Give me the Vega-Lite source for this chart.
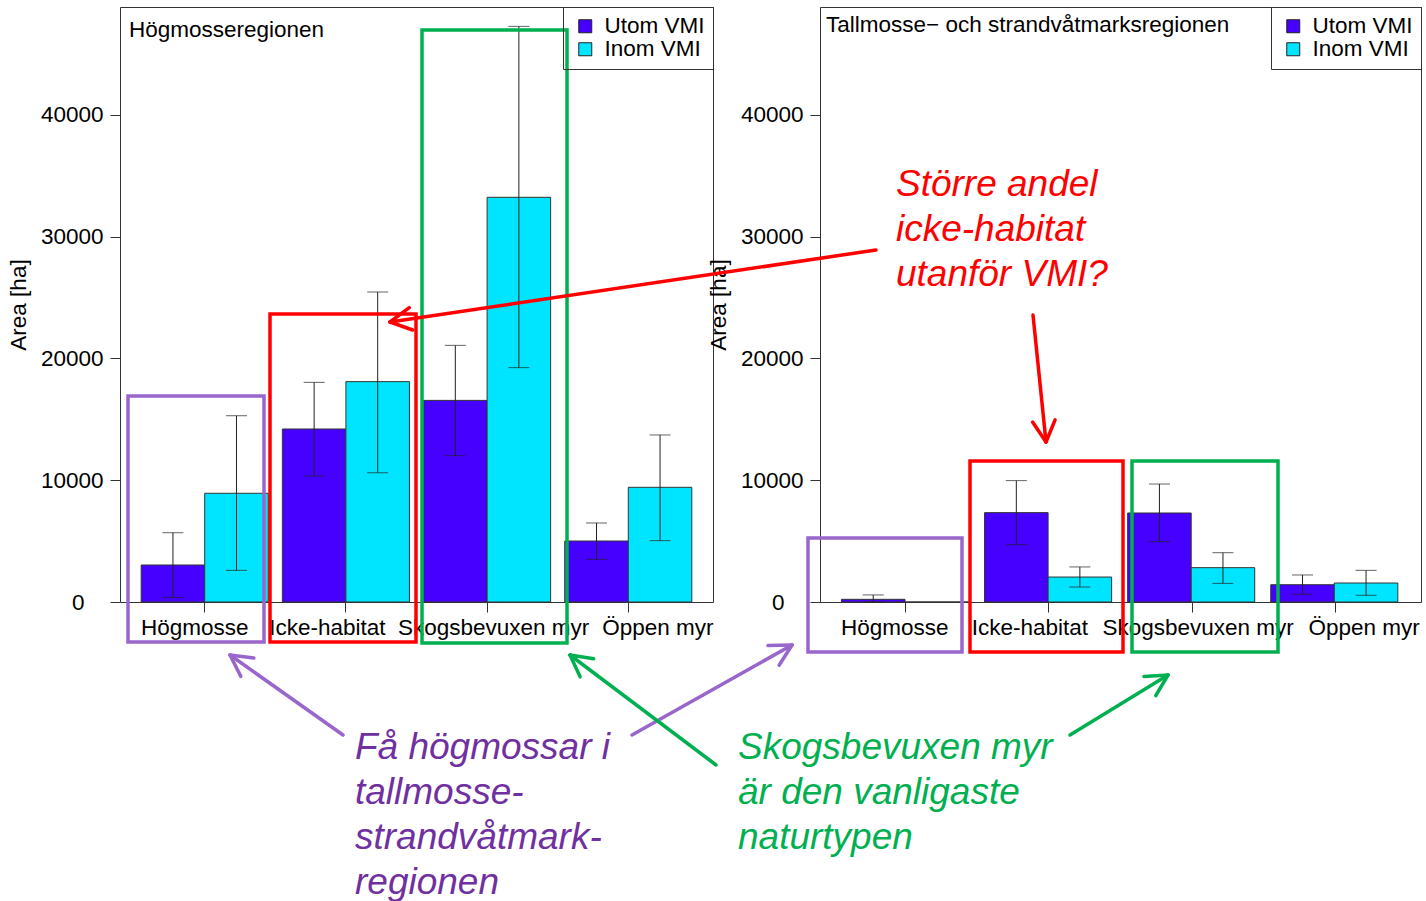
{
  "$schema": "https://vega.github.io/schema/vega-lite/v6.json",
  "background": "white",
  "padding": {"left": 6, "top": 6, "right": 0, "bottom": 0},
  "bounds": "flush",
  "spacing": 107,
  "config": {
    "font": "Liberation Sans",
    "view": {"stroke": "#333333", "strokeWidth": 1},
    "axis": {"labelFontSize": 22.5, "titleFontSize": 22.5, "titleFontWeight": "normal", "labelColor": "#000000", "titleColor": "#000000", "tickColor": "#333333", "tickSize": 10, "domain": false, "grid": false}
  },
  "datasets": {
    "staplar": [
      {"region": "Högmosseregionen", "naturtyp": "Högmosse", "grupp": "Utom VMI", "area": 3040, "lo": 380, "hi": 5690},
      {"region": "Högmosseregionen", "naturtyp": "Högmosse", "grupp": "Inom VMI", "area": 8930, "lo": 2600, "hi": 15300},
      {"region": "Högmosseregionen", "naturtyp": "Icke-habitat", "grupp": "Utom VMI", "area": 14210, "lo": 10350, "hi": 18040},
      {"region": "Högmosseregionen", "naturtyp": "Icke-habitat", "grupp": "Inom VMI", "area": 18100, "lo": 10620, "hi": 25460},
      {"region": "Högmosseregionen", "naturtyp": "Skogsbevuxen myr", "grupp": "Utom VMI", "area": 16560, "lo": 12020, "hi": 21080},
      {"region": "Högmosseregionen", "naturtyp": "Skogsbevuxen myr", "grupp": "Inom VMI", "area": 33240, "lo": 19250, "hi": 47280},
      {"region": "Högmosseregionen", "naturtyp": "Öppen myr", "grupp": "Utom VMI", "area": 5010, "lo": 3500, "hi": 6490},
      {"region": "Högmosseregionen", "naturtyp": "Öppen myr", "grupp": "Inom VMI", "area": 9420, "lo": 5040, "hi": 13720},
      {"region": "Tallmosse- och strandvåtmarksregionen", "naturtyp": "Högmosse", "grupp": "Utom VMI", "area": 220, "lo": 0, "hi": 580},
      {"region": "Tallmosse- och strandvåtmarksregionen", "naturtyp": "Högmosse", "grupp": "Inom VMI", "area": 0, "lo": null, "hi": null},
      {"region": "Tallmosse- och strandvåtmarksregionen", "naturtyp": "Icke-habitat", "grupp": "Utom VMI", "area": 7340, "lo": 4710, "hi": 9970},
      {"region": "Tallmosse- och strandvåtmarksregionen", "naturtyp": "Icke-habitat", "grupp": "Inom VMI", "area": 2050, "lo": 1230, "hi": 2880},
      {"region": "Tallmosse- och strandvåtmarksregionen", "naturtyp": "Skogsbevuxen myr", "grupp": "Utom VMI", "area": 7310, "lo": 4960, "hi": 9690},
      {"region": "Tallmosse- och strandvåtmarksregionen", "naturtyp": "Skogsbevuxen myr", "grupp": "Inom VMI", "area": 2820, "lo": 1530, "hi": 4050},
      {"region": "Tallmosse- och strandvåtmarksregionen", "naturtyp": "Öppen myr", "grupp": "Utom VMI", "area": 1420, "lo": 630, "hi": 2220},
      {"region": "Tallmosse- och strandvåtmarksregionen", "naturtyp": "Öppen myr", "grupp": "Inom VMI", "area": 1560, "lo": 550, "hi": 2600}
    ],
    "ramar": [
      {"panel": "L", "tema": "Högmosse", "x": 0.4567, "x2": 1.4199, "y": 16920, "y2": -3285},
      {"panel": "L", "tema": "Icke-habitat", "x": 1.4624, "x2": 2.4965, "y": 23655, "y2": -3285},
      {"panel": "L", "tema": "Skogsbevuxen myr", "x": 2.539, "x2": 3.566, "y": 46982, "y2": -3368},
      {"panel": "R", "tema": "Högmosse", "x": 0.3161, "x2": 1.3923, "y": 5257, "y2": -4107},
      {"panel": "R", "tema": "Icke-habitat", "x": 1.4483, "x2": 2.5175, "y": 11581, "y2": -4107},
      {"panel": "R", "tema": "Skogsbevuxen myr", "x": 2.5804, "x2": 3.6007, "y": 11581, "y2": -4107}
    ],
    "pilar": [
      {"panel": "L", "tema": "Högmosse", "x": 1.9794, "y": -10924, "x2": 1.1791, "y2": -4353},
      {"panel": "L", "tema": "Högmosse", "x": 1.1791, "y": -4353, "x2": 1.2556, "y2": -6111},
      {"panel": "L", "tema": "Högmosse", "x": 1.1791, "y": -4353, "x2": 1.3477, "y2": -4600},
      {"panel": "L", "tema": "Högmosse", "x": 4.0263, "y": -10924, "x2": 5.1596, "y2": -3532},
      {"panel": "L", "tema": "Högmosse", "x": 5.1596, "y": -3532, "x2": 4.9896, "y2": -3581},
      {"panel": "L", "tema": "Högmosse", "x": 5.1596, "y": -3532, "x2": 5.0682, "y2": -5191},
      {"panel": "L", "tema": "Skogsbevuxen myr", "x": 4.6213, "y": -13388, "x2": 3.5872, "y2": -4353},
      {"panel": "L", "tema": "Skogsbevuxen myr", "x": 3.5872, "y": -4353, "x2": 3.6588, "y2": -6144},
      {"panel": "L", "tema": "Skogsbevuxen myr", "x": 3.5872, "y": -4353, "x2": 3.7551, "y2": -4665},
      {"panel": "R", "tema": "Icke-habitat", "x": 0.7913, "y": 28912, "x2": -2.605, "y2": 22998},
      {"panel": "R", "tema": "Icke-habitat", "x": -2.605, "y": 22998, "x2": -2.4471, "y2": 22341},
      {"panel": "R", "tema": "Icke-habitat", "x": -2.605, "y": 22998, "x2": -2.4701, "y2": 24172},
      {"panel": "R", "tema": "Icke-habitat", "x": 1.8885, "y": 23573, "x2": 1.9794, "y2": 13142},
      {"panel": "R", "tema": "Icke-habitat", "x": 1.9794, "y": 13142, "x2": 2.043, "y2": 14965},
      {"panel": "R", "tema": "Icke-habitat", "x": 1.9794, "y": 13142, "x2": 1.8857, "y2": 14776},
      {"panel": "R", "tema": "Skogsbevuxen myr", "x": 2.1471, "y": -10924, "x2": 2.832, "y2": -5996},
      {"panel": "R", "tema": "Skogsbevuxen myr", "x": 2.832, "y": -5996, "x2": 2.6642, "y2": -6119},
      {"panel": "R", "tema": "Skogsbevuxen myr", "x": 2.832, "y": -5996, "x2": 2.7467, "y2": -7696}
    ],
    "texter": [
      {"panel": "L", "tema": "Högmosse", "x": 2.0644, "y": -12895, "text": "Få högmossar i\ntallmosse-\nstrandvåtmark-\nregionen"},
      {"panel": "R", "tema": "Icke-habitat", "x": 0.9311, "y": 33347, "text": "Större andel\nicke-habitat\nutanför VMI?"},
      {"panel": "R", "tema": "Skogsbevuxen myr", "x": -0.173, "y": -12895, "text": "Skogsbevuxen myr\när den vanligaste\nnaturtypen"}
    ],
    "rubriker": [
      {"panel": "L", "x": 0.4637, "y": 46407, "text": "Högmosseregionen"},
      {"panel": "R", "x": 0.4419, "y": 46817, "text": "Tallmosse− och strandvåtmarksregionen"}
    ]
  },
  "hconcat": [
    {
      "width": 593,
      "height": 595,
      "resolve": {"scale": {"x": "independent"}},
      "layer": [
        {
          "data": {"name": "staplar"},
          "transform": [{"filter": "datum.region === 'Högmosseregionen'"}],
          "encoding": {
            "x": {"field": "naturtyp", "type": "nominal", "sort": ["Högmosse", "Icke-habitat", "Skogsbevuxen myr", "Öppen myr"], "scale": {"paddingInner": 0.1, "paddingOuter": 0.15}, "axis": {"title": null, "labelAngle": 0, "labelOverlap": false, "labelPadding": 4, "labelFlush": false, "labelLimit": 400, "labelOffset": {"condition": [{"test": "datum.value === 'Högmosse'", "value": -10}, {"test": "datum.value === 'Icke-habitat'", "value": -18.5}, {"test": "datum.value === 'Skogsbevuxen myr'", "value": 6.5}], "value": 29.5}}},
            "xOffset": {"field": "grupp", "type": "nominal", "sort": ["Utom VMI", "Inom VMI"], "scale": {"domain": ["Utom VMI", "Inom VMI"], "paddingInner": 0, "paddingOuter": 0}}
          },
          "layer": [
            {
              "mark": {"type": "bar", "stroke": "#333333", "strokeWidth": 1},
              "encoding": {
                "y": {"field": "area", "type": "quantitative", "scale": {"domain": [0, 48870], "nice": false}, "axis": {"title": "Area [ha]", "values": [0, 10000, 20000, 30000, 40000], "format": "d", "labelPadding": {"condition": {"test": "datum.value === 0", "value": 26}, "value": 7}, "titlePadding": 10}},
                "color": {"field": "grupp", "type": "nominal", "scale": {"domain": ["Utom VMI", "Inom VMI"], "range": ["#4600FF", "#00E5FF"]}, "legend": {"title": null, "orient": "top-right", "offset": 0, "padding": 8, "symbolOffset": 3, "labelOffset": 8, "labelFontSize": 22.5, "labelColor": "#000000", "symbolType": "square", "symbolSize": 169, "symbolStrokeColor": "#222222", "symbolStrokeWidth": 1, "strokeColor": "#333333", "rowPadding": -3}}
              }
            },
            {
              "mark": {"type": "rule", "color": "#222222", "strokeWidth": 1},
              "encoding": {
                "y": {"field": "lo", "type": "quantitative", "scale": {"domain": [0, 48870], "nice": false}},
                "y2": {"field": "hi"}
              }
            },
            {
              "mark": {"type": "tick", "orient": "horizontal", "size": 21, "thickness": 1, "color": "#222222"},
              "encoding": {"y": {"field": "lo", "type": "quantitative", "scale": {"domain": [0, 48870], "nice": false}}}
            },
            {
              "mark": {"type": "tick", "orient": "horizontal", "size": 21, "thickness": 1, "color": "#222222"},
              "encoding": {"y": {"field": "hi", "type": "quantitative", "scale": {"domain": [0, 48870], "nice": false}}}
            }
          ]
        },
        {
          "layer": [
            {
              "data": {"name": "ramar"},
              "transform": [{"filter": "datum.panel === 'L'"}],
              "mark": {"type": "rect", "filled": false, "strokeWidth": 3.5},
              "encoding": {
                "x": {"field": "x", "type": "quantitative", "scale": {"domain": [0.4, 4.6], "nice": false, "zero": false}, "axis": null},
                "x2": {"field": "x2"},
                "y": {"field": "y", "type": "quantitative", "scale": {"domain": [0, 48870], "nice": false}},
                "y2": {"field": "y2"},
                "stroke": {"field": "tema", "type": "nominal", "scale": {"domain": ["Högmosse", "Icke-habitat", "Skogsbevuxen myr"], "range": ["#9966CC", "#FF0000", "#00B050"]}, "legend": null}
              }
            },
            {
              "data": {"name": "pilar"},
              "transform": [{"filter": "datum.panel === 'L'"}],
              "mark": {"type": "rule", "strokeWidth": 3.5, "strokeCap": "round"},
              "encoding": {
                "x": {"field": "x", "type": "quantitative", "scale": {"domain": [0.4, 4.6], "nice": false, "zero": false}, "axis": null},
                "x2": {"field": "x2"},
                "y": {"field": "y", "type": "quantitative", "scale": {"domain": [0, 48870], "nice": false}},
                "y2": {"field": "y2"},
                "stroke": {"field": "tema", "type": "nominal", "scale": {"domain": ["Högmosse", "Icke-habitat", "Skogsbevuxen myr"], "range": ["#9966CC", "#FF0000", "#00B050"]}, "legend": null}
              }
            },
            {
              "data": {"name": "texter"},
              "transform": [{"filter": "datum.panel === 'L'"}],
              "mark": {"type": "text", "align": "left", "baseline": "alphabetic", "fontSize": 37, "fontStyle": "italic", "lineBreak": "\n", "lineHeight": 45},
              "encoding": {
                "x": {"field": "x", "type": "quantitative", "scale": {"domain": [0.4, 4.6], "nice": false, "zero": false}, "axis": null},
                "y": {"field": "y", "type": "quantitative", "scale": {"domain": [0, 48870], "nice": false}},
                "text": {"field": "text", "type": "nominal"},
                "fill": {"field": "tema", "type": "nominal", "scale": {"domain": ["Högmosse", "Icke-habitat", "Skogsbevuxen myr"], "range": ["#7030A0", "#FF0000", "#00B050"]}, "legend": null}
              }
            },
            {
              "data": {"name": "rubriker"},
              "transform": [{"filter": "datum.panel === 'L'"}],
              "mark": {"type": "text", "align": "left", "baseline": "alphabetic", "fontSize": 22.5, "color": "#000000"},
              "encoding": {
                "x": {"field": "x", "type": "quantitative", "scale": {"domain": [0.4, 4.6], "nice": false, "zero": false}, "axis": null},
                "y": {"field": "y", "type": "quantitative", "scale": {"domain": [0, 48870], "nice": false}},
                "text": {"field": "text", "type": "nominal"}
              }
            }
          ]
        }
      ]
    },
    {
      "width": 601,
      "height": 595,
      "resolve": {"scale": {"x": "independent"}},
      "layer": [
        {
          "data": {"name": "staplar"},
          "transform": [{"filter": "datum.region === 'Tallmosse- och strandvåtmarksregionen'"}],
          "encoding": {
            "x": {"field": "naturtyp", "type": "nominal", "sort": ["Högmosse", "Icke-habitat", "Skogsbevuxen myr", "Öppen myr"], "scale": {"paddingInner": 0.1, "paddingOuter": 0.15}, "axis": {"title": null, "labelAngle": 0, "labelOverlap": false, "labelPadding": 4, "labelFlush": false, "labelLimit": 400, "labelOffset": {"condition": [{"test": "datum.value === 'Högmosse'", "value": -11}, {"test": "datum.value === 'Icke-habitat'", "value": -19}, {"test": "datum.value === 'Skogsbevuxen myr'", "value": 6}], "value": 29}}},
            "xOffset": {"field": "grupp", "type": "nominal", "sort": ["Utom VMI", "Inom VMI"], "scale": {"domain": ["Utom VMI", "Inom VMI"], "paddingInner": 0, "paddingOuter": 0}}
          },
          "layer": [
            {
              "mark": {"type": "bar", "stroke": "#333333", "strokeWidth": 1},
              "encoding": {
                "y": {"field": "area", "type": "quantitative", "scale": {"domain": [0, 48870], "nice": false}, "axis": {"title": "Area [ha]", "values": [0, 10000, 20000, 30000, 40000], "format": "d", "labelPadding": {"condition": {"test": "datum.value === 0", "value": 26}, "value": 7}, "titlePadding": 10}},
                "color": {"field": "grupp", "type": "nominal", "scale": {"domain": ["Utom VMI", "Inom VMI"], "range": ["#4600FF", "#00E5FF"]}, "legend": {"title": null, "orient": "top-right", "offset": 0, "padding": 8, "symbolOffset": 3, "labelOffset": 8, "labelFontSize": 22.5, "labelColor": "#000000", "symbolType": "square", "symbolSize": 169, "symbolStrokeColor": "#222222", "symbolStrokeWidth": 1, "strokeColor": "#333333", "rowPadding": -3}}
              }
            },
            {
              "mark": {"type": "rule", "color": "#222222", "strokeWidth": 1},
              "encoding": {
                "y": {"field": "lo", "type": "quantitative", "scale": {"domain": [0, 48870], "nice": false}},
                "y2": {"field": "hi"}
              }
            },
            {
              "mark": {"type": "tick", "orient": "horizontal", "size": 21, "thickness": 1, "color": "#222222"},
              "encoding": {"y": {"field": "lo", "type": "quantitative", "scale": {"domain": [0, 48870], "nice": false}}}
            },
            {
              "mark": {"type": "tick", "orient": "horizontal", "size": 21, "thickness": 1, "color": "#222222"},
              "encoding": {"y": {"field": "hi", "type": "quantitative", "scale": {"domain": [0, 48870], "nice": false}}}
            }
          ]
        },
        {
          "layer": [
            {
              "data": {"name": "ramar"},
              "transform": [{"filter": "datum.panel === 'R'"}],
              "mark": {"type": "rect", "filled": false, "strokeWidth": 3.5},
              "encoding": {
                "x": {"field": "x", "type": "quantitative", "scale": {"domain": [0.4, 4.6], "nice": false, "zero": false}, "axis": null},
                "x2": {"field": "x2"},
                "y": {"field": "y", "type": "quantitative", "scale": {"domain": [0, 48870], "nice": false}},
                "y2": {"field": "y2"},
                "stroke": {"field": "tema", "type": "nominal", "scale": {"domain": ["Högmosse", "Icke-habitat", "Skogsbevuxen myr"], "range": ["#9966CC", "#FF0000", "#00B050"]}, "legend": null}
              }
            },
            {
              "data": {"name": "pilar"},
              "transform": [{"filter": "datum.panel === 'R'"}],
              "mark": {"type": "rule", "strokeWidth": 3.5, "strokeCap": "round"},
              "encoding": {
                "x": {"field": "x", "type": "quantitative", "scale": {"domain": [0.4, 4.6], "nice": false, "zero": false}, "axis": null},
                "x2": {"field": "x2"},
                "y": {"field": "y", "type": "quantitative", "scale": {"domain": [0, 48870], "nice": false}},
                "y2": {"field": "y2"},
                "stroke": {"field": "tema", "type": "nominal", "scale": {"domain": ["Högmosse", "Icke-habitat", "Skogsbevuxen myr"], "range": ["#9966CC", "#FF0000", "#00B050"]}, "legend": null}
              }
            },
            {
              "data": {"name": "texter"},
              "transform": [{"filter": "datum.panel === 'R'"}],
              "mark": {"type": "text", "align": "left", "baseline": "alphabetic", "fontSize": 37, "fontStyle": "italic", "lineBreak": "\n", "lineHeight": 45},
              "encoding": {
                "x": {"field": "x", "type": "quantitative", "scale": {"domain": [0.4, 4.6], "nice": false, "zero": false}, "axis": null},
                "y": {"field": "y", "type": "quantitative", "scale": {"domain": [0, 48870], "nice": false}},
                "text": {"field": "text", "type": "nominal"},
                "fill": {"field": "tema", "type": "nominal", "scale": {"domain": ["Högmosse", "Icke-habitat", "Skogsbevuxen myr"], "range": ["#7030A0", "#FF0000", "#00B050"]}, "legend": null}
              }
            },
            {
              "data": {"name": "rubriker"},
              "transform": [{"filter": "datum.panel === 'R'"}],
              "mark": {"type": "text", "align": "left", "baseline": "alphabetic", "fontSize": 22.5, "color": "#000000"},
              "encoding": {
                "x": {"field": "x", "type": "quantitative", "scale": {"domain": [0.4, 4.6], "nice": false, "zero": false}, "axis": null},
                "y": {"field": "y", "type": "quantitative", "scale": {"domain": [0, 48870], "nice": false}},
                "text": {"field": "text", "type": "nominal"}
              }
            }
          ]
        }
      ]
    }
  ],
  "resolve": {"scale": {"color": "independent"}, "legend": {"color": "independent"}}
}
